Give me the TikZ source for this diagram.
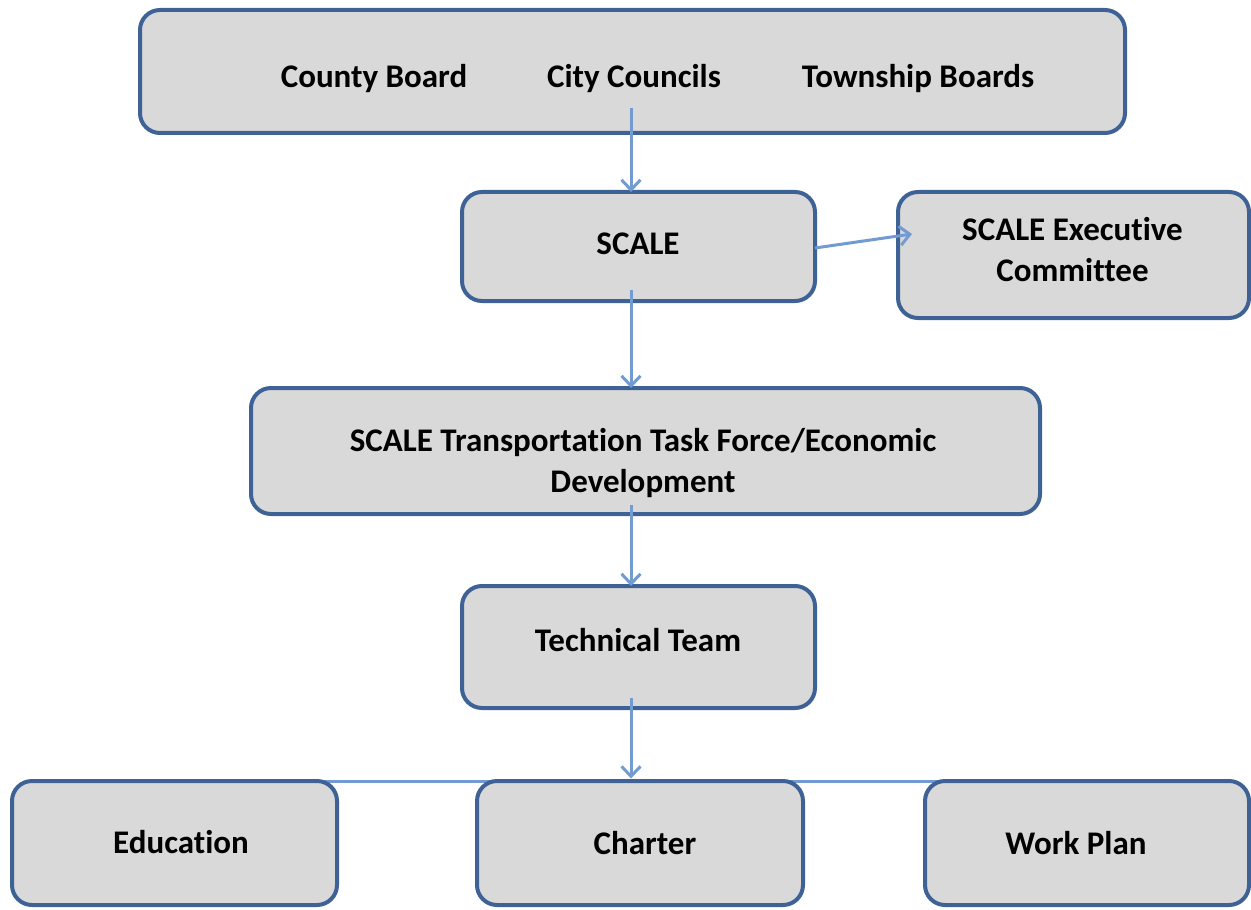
\documentclass[tikz,border=0pt]{standalone}
\usepackage{fontspec}
\setmainfont{Carlito}[Ligatures=NoCommon]
\usetikzlibrary{arrows.meta,calc,backgrounds}
\definecolor{boxline}{RGB}{63,98,150}
\definecolor{boxfill}{RGB}{217,217,217}
\definecolor{connline}{RGB}{114,155,210}
\tikzset{
  orgbox/.style={draw=boxline, fill=boxfill, line width=2pt, rounded corners=10pt,
    inner sep=0pt, outer sep=0pt},
  lbl/.style={inner sep=0pt, align=center,
    font=\fontsize{16.5}{20.5}\selectfont\bfseries},
  conn/.style={draw=connline, line width=1.5pt,
    -{Straight Barb[length=5pt,width=9.5pt,line width=1.5pt]}},
  plainconn/.style={draw=connline, line width=1.5pt}
}
\begin{document}
\begin{tikzpicture}[x=0.5pt,y=-0.5pt]
\useasboundingbox (0,0) rectangle (1251,909);
% boxes
\node[orgbox, minimum width=492.5pt, minimum height=61.5pt] (top) at (632.5,71.5) {};
\node[orgbox, minimum width=176.5pt, minimum height=54.5pt] (scale) at (638.5,246.5) {};
\node[orgbox, minimum width=175.5pt, minimum height=63pt] (exec) at (1073.5,255) {};
\node[orgbox, minimum width=394.5pt, minimum height=63pt] (ttf) at (645.5,451) {};
\node[orgbox, minimum width=176.5pt, minimum height=61pt] (tech) at (638.5,647) {};
\node[orgbox, minimum width=162.5pt, minimum height=62pt] (edu) at (174.5,843) {};
\node[orgbox, minimum width=163pt, minimum height=62pt] (charter) at (640,843) {};
\node[orgbox, minimum width=162pt, minimum height=62pt] (work) at (1087,843) {};
% texts
\node[lbl] (county) at (374,79) {County Board};
\node[lbl] (city) at (634,79) {City Councils};
\node[lbl] (township) at (918,79) {Township Boards};
\node[lbl] (scaleT) at (638,243.5) {SCALE};
\node[lbl] (execT) at (1072.5,250) {SCALE Executive\\Committee};
\node[lbl] (ttfT) at (643,463) {SCALE Transportation Task Force/Economic\\Development};
\node[lbl] (techT) at (638,640) {Technical Team};
\node[lbl] (eduT) at (181,842) {Education};
\node[lbl] (charterT) at (645,843) {Charter};
\node[lbl] (workT) at (1076,843) {Work Plan};
% connectors
\coordinate (spine) at (631,0);
\coordinate (bar) at (631,781.5);
\begin{scope}[on background layer]
\draw[plainconn] (edu.north |- bar) -- (work.north |- bar);
\end{scope}
\draw[conn] ($(top.south -| spine)+(0,-25)$) -- (scale.north -| spine);
\draw[conn] ($(scale.south -| spine)+(0,-11)$) -- (ttf.north -| spine);
\draw[conn] ($(ttf.south -| spine)+(0,-9)$) -- (tech.north -| spine);
\draw[conn] ($(tech.south -| spine)+(0,-10)$) -- ($(bar)+(0,-3)$);
\draw[conn] ($(scale.east)+(0,1.5)$) -- ($(exec.west)+(14,-21)$);
\end{tikzpicture}
\end{document}
